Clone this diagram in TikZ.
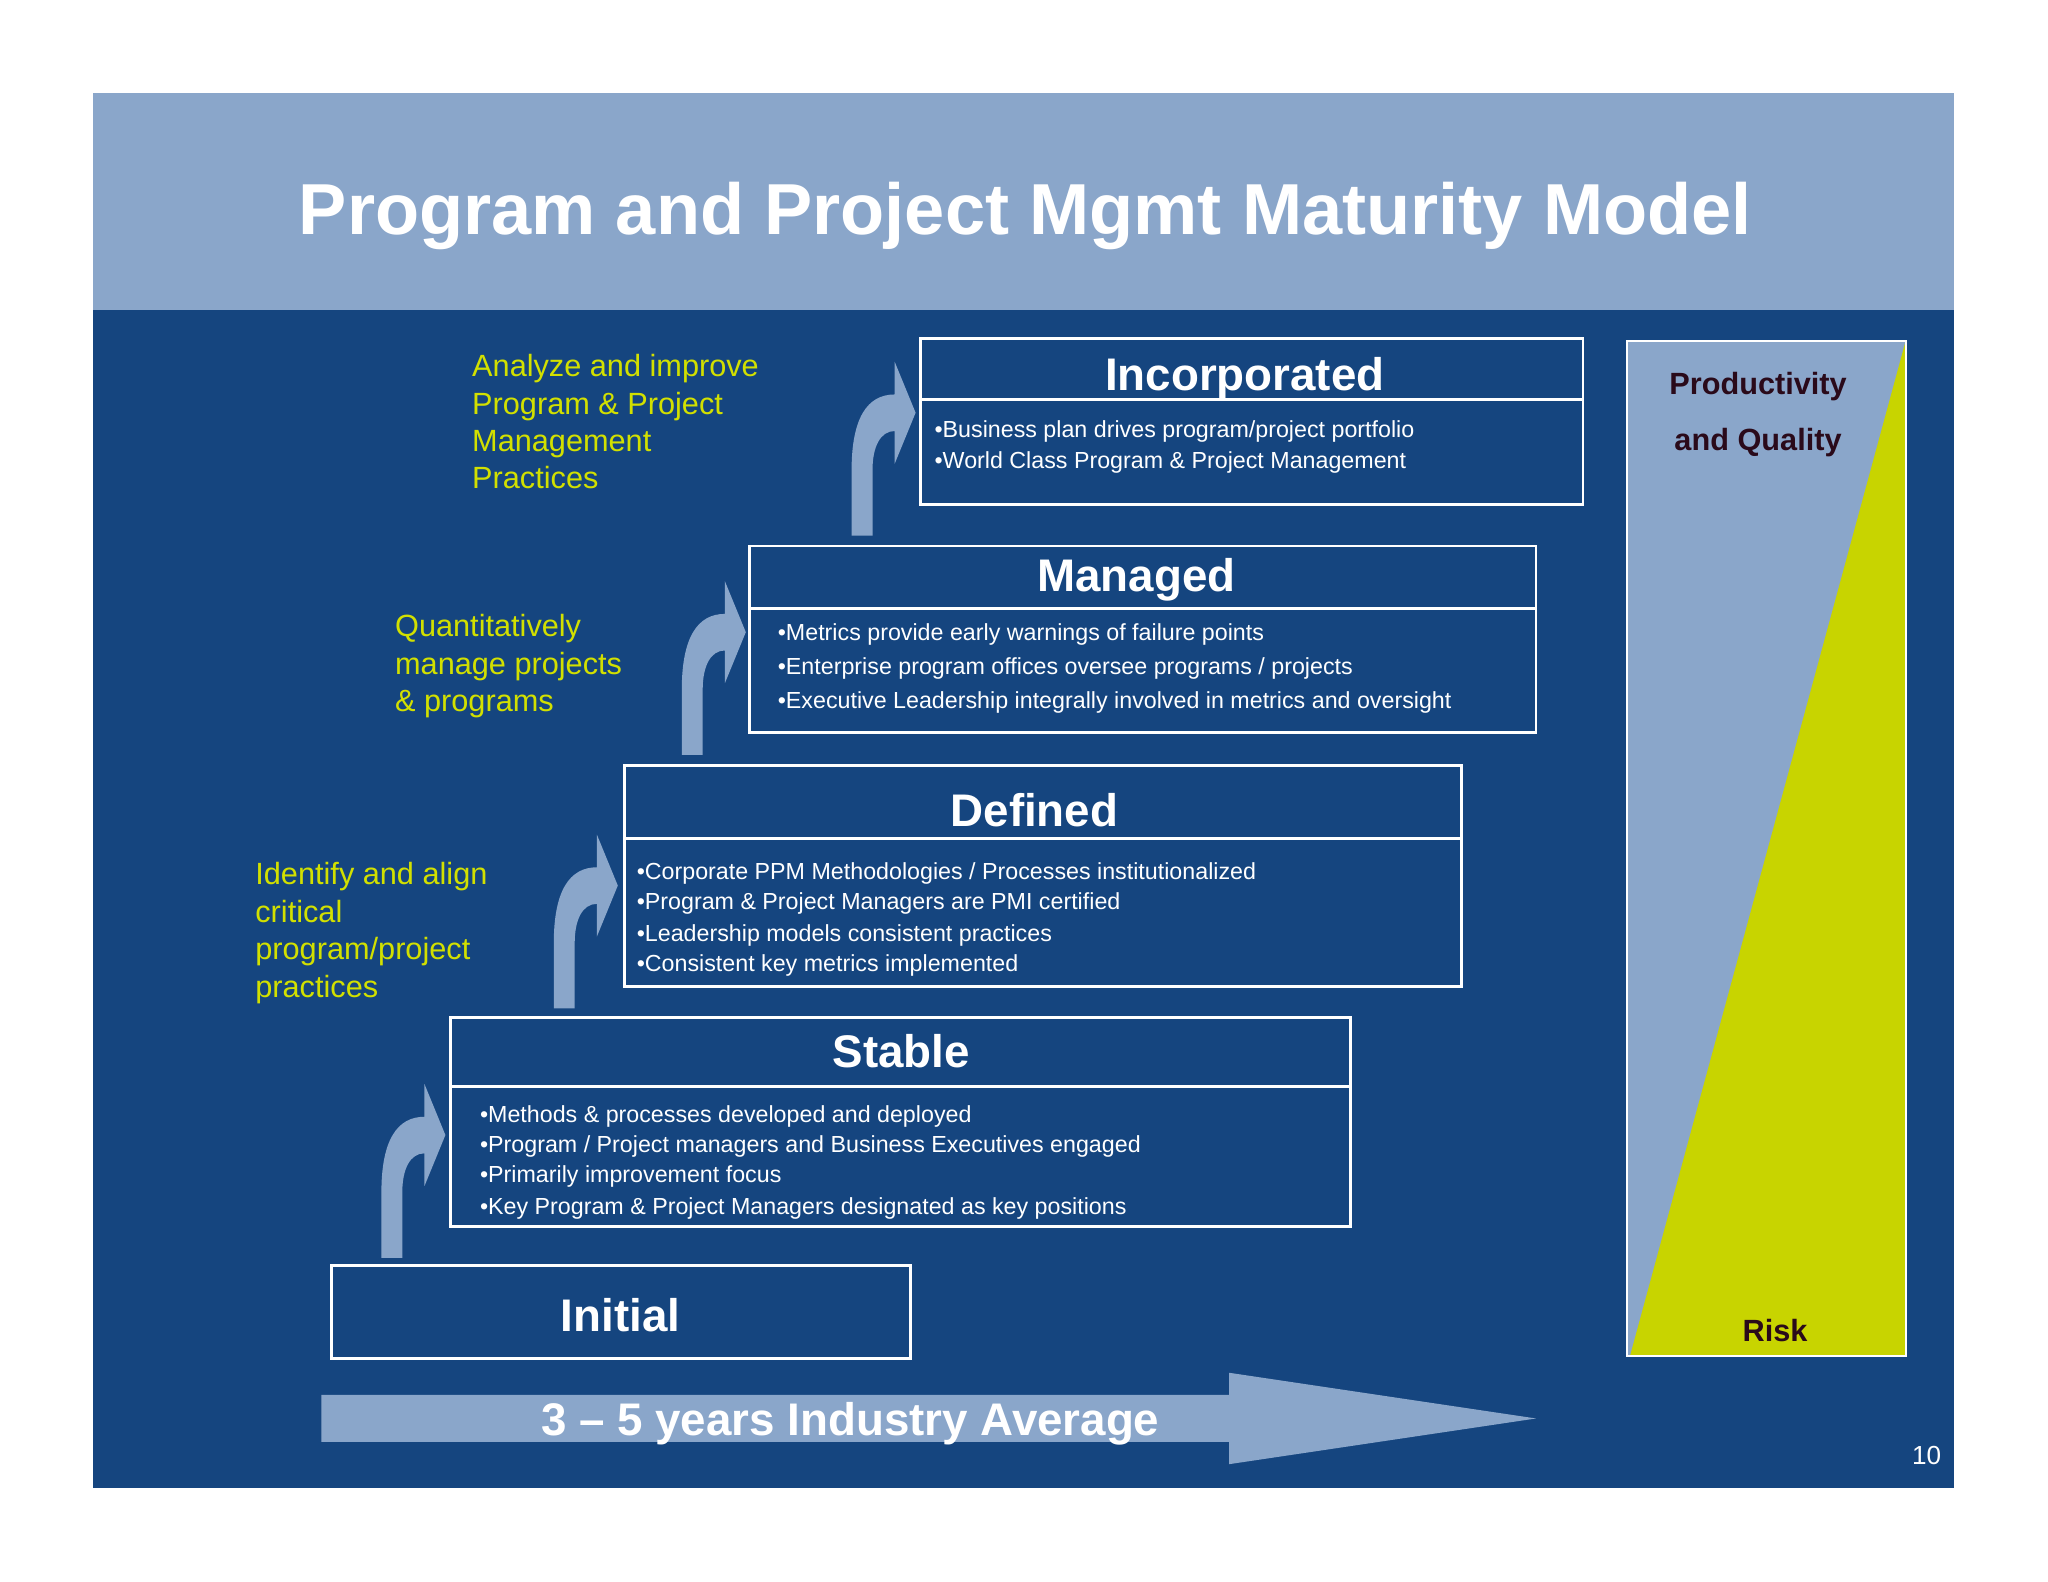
\documentclass[tikz,border=0pt]{standalone}
\usepackage{fontspec}
\setmainfont{Liberation Sans}
\definecolor{hdr}{HTML}{8AA6CA}
\definecolor{body}{HTML}{15457F}
\definecolor{lime}{HTML}{C8D400}
\definecolor{limet}{HTML}{D2E000}
\definecolor{darkt}{HTML}{2A0A1A}
\tikzset{
 stage/.style={draw=white,line width=2.2pt},
 stitle/.style={text=white,font=\fontsize{35}{40}\selectfont\bfseries,anchor=center},
 bul/.style={text=white,font=\fontsize{17.8}{20}\selectfont,anchor=west},
 gtxt/.style={text=limet,font=\fontsize{23.5}{28.6}\selectfont,anchor=north west,align=left},
 ptxt/.style={text=darkt,font=\fontsize{23.5}{26}\selectfont\bfseries},
 pics/bend/.style={code={
   \fill[hdr] (0,0) -- (0,-50) .. controls (0,-90) and (12,-108) .. (33,-108)
     -- (33,-133) -- (49,-94) -- (33,-55) -- (33,-80)
     .. controls (22,-80) and (16,-68) .. (16,-50) -- (16,0) -- cycle;}}
}
\begin{document}
\begin{tikzpicture}[x=1pt,y=-1pt]
\useasboundingbox (0,0) rectangle (1568,1211);
\fill[white] (0,0) rectangle (1568,1211);
\fill[body] (71,237) rectangle (1496,1139);
\fill[hdr] (71,71) rectangle (1496,237);
\node[text=white,font=\fontsize{55.3}{60}\selectfont\bfseries] (title) at (785,165) {Program and Project Mgmt Maturity Model};
% stages
\draw[stage] (705,259) rectangle (1212,386); \draw[stage] (705,306) -- (1212,306);
\node[stitle] (inc) at (953,290) {Incorporated};
\node[bul] at (712,330) {•Business plan drives program/project portfolio};
\node[bul] at (712,354) {•World Class Program \& Project Management};
\draw[stage] (574,418) rectangle (1176,561); \draw[stage] (574,466) -- (1176,466);
\node[stitle] (man) at (870,444) {Managed};
\node[bul] at (592,486) {•Metrics provide early warnings of failure points};
\node[bul] at (592,512) {•Enterprise program offices oversee programs / projects};
\node[bul] at (592,538) {•Executive Leadership integrally involved in metrics and oversight};
\draw[stage] (478,586) rectangle (1119,755); \draw[stage] (478,642) -- (1119,642);
\node[stitle] (def) at (792,620) {Defined};
\node[bul] at (484,669) {•Corporate PPM Methodologies / Processes institutionalized};
\node[bul] at (484,692) {•Program \& Project Managers are PMI certified};
\node[bul] at (484,716) {•Leadership models consistent practices};
\node[bul] at (484,739) {•Consistent key metrics implemented};
\draw[stage] (345,779) rectangle (1034,939); \draw[stage] (345,832) -- (1034,832);
\node[stitle] (sta) at (690,805) {Stable};
\node[bul] at (364,855) {•Methods \& processes developed and deployed};
\node[bul] at (364,878) {•Program / Project managers and Business Executives engaged};
\node[bul] at (364,901) {•Primarily improvement focus};
\node[bul] at (364,925) {•Key Program \& Project Managers designated as key positions};
\draw[stage] (254,969) rectangle (697,1040);
\node[stitle] (ini) at (475,1007) {Initial};
% bent arrows
\pic at (292,963) {bend};
\pic at (424,772) {bend};
\pic at (522,578) {bend};
\pic at (652,410) {bend};
% green texts
\node[gtxt] (g1) at (358,268) {Analyze and improve\\Program \& Project\\Management\\Practices};
\node[gtxt] (g2) at (299,467) {Quantitatively\\manage projects\\\& programs};
\node[gtxt] (g3) at (192,657) {Identify and align\\critical\\program/project\\practices};
% right panel
\fill[hdr] (1246,261) rectangle (1459,1038);
\fill[lime] (1459,261) -- (1459,1038) -- (1248,1038) -- cycle;
\draw[white,line width=1.5pt] (1246,261) rectangle (1459,1038);
\node[ptxt] (pq1) at (1346,296) {Productivity};
\node[ptxt] (pq2) at (1346,339) {and Quality};
\node[ptxt] (risk) at (1359,1019) {Risk};
% bottom arrow
\fill[hdr] (246,1068) -- (941,1068) -- (941,1051) -- (1176,1086) -- (941,1121) -- (941,1104) -- (246,1104) -- cycle;
\node[text=white,font=\fontsize{35}{40}\selectfont\bfseries] (yrs) at (651,1090) {3 – 5 years Industry Average};
\node[text=white,font=\fontsize{20}{22}\selectfont] (pg) at (1475,1114) {10};
\end{tikzpicture}
\end{document}
